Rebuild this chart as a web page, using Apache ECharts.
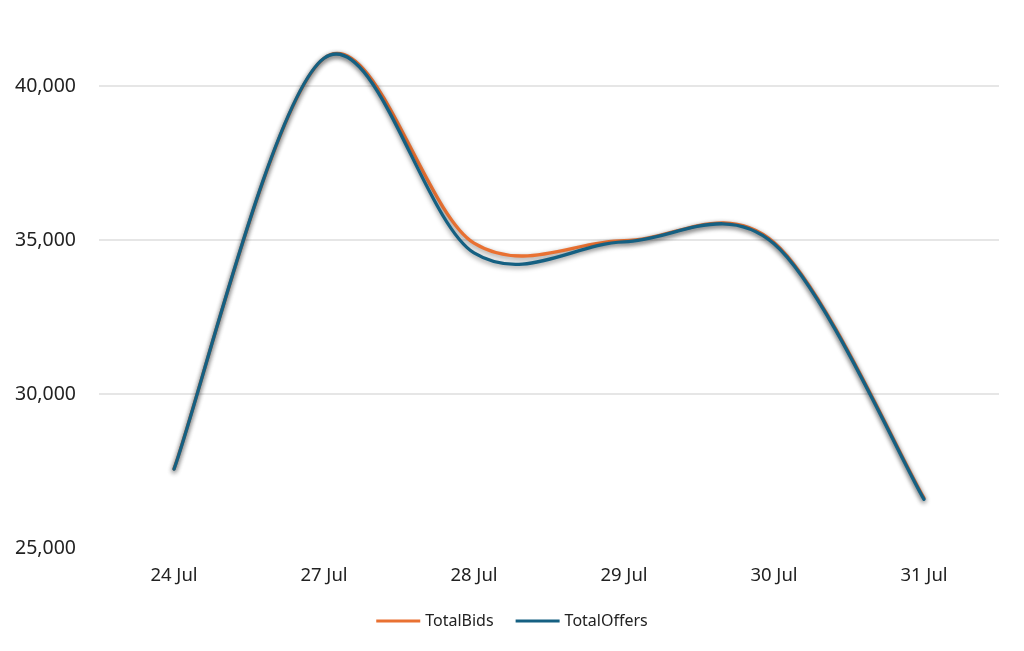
<!DOCTYPE html>
<html>
<head>
    <meta charset="UTF-8">
    <title>TotalBids / TotalOffers</title>
    <script src="https://cdn.jsdelivr.net/npm/echarts@6/dist/echarts.min.js"></script>
    <style>
        html, body { margin: 0; padding: 0; background: #fff; }
        #main { width: 1024px; height: 651px; }
    </style>
</head>
<body>
<div id="main"></div>
<script type="text/javascript">
    // data
    var days = ['24 Jul', '27 Jul', '28 Jul', '29 Jul', '30 Jul', '31 Jul'];
    var totalBids = [27570, 40900, 34900, 34980, 34920, 26620];
    var totalOffers = [27560, 40900, 34580, 34940, 34880, 26580];
    var yTicks = [25000, 30000, 35000, 40000];

    var myChart = echarts.init(document.getElementById('main'));
    var font = '"Noto Sans", sans-serif';

    // spreadsheet-style smoothed line (catmull-rom through the points)
    function smoothPath(values, api) {
        var pts = values.map(function (v, i) {
            return api.coord([i, v]);
        });
        var n = pts.length;
        var t = 1 / 6;
        var d = 'M' + pts[0][0] + ' ' + pts[0][1];
        for (var i = 0; i < n - 1; i++) {
            var p0 = pts[Math.max(i - 1, 0)];
            var p1 = pts[i];
            var p2 = pts[i + 1];
            var p3 = pts[Math.min(i + 2, n - 1)];
            var c1x = p1[0] + (p2[0] - p0[0]) * t;
            var c1y = p1[1] + (p2[1] - p0[1]) * t;
            var c2x = p2[0] - (p3[0] - p1[0]) * t;
            var c2y = p2[1] - (p3[1] - p1[1]) * t;
            d += ' C' + c1x + ' ' + c1y + ' ' + c2x + ' ' + c2y + ' ' + p2[0] + ' ' + p2[1];
        }
        return d;
    }

    function lineSeries(name, values, color) {
        return {
            name: name,
            type: 'custom',
            clip: false,
            itemStyle: {color: color},
            encode: {x: 0, y: 1},
            data: values.map(function (v, i) {
                return [i, v];
            }),
            renderItem: function (params, api) {
                if (params.dataIndex !== 0) {
                    return;
                }
                return {
                    type: 'path',
                    shape: {pathData: smoothPath(values, api)},
                    style: {
                        fill: 'none',
                        stroke: color,
                        lineWidth: 3.3,
                        lineCap: 'round',
                        shadowColor: 'rgba(0, 0, 0, 0.45)',
                        shadowBlur: 5,
                        shadowOffsetY: 2
                    }
                };
            }
        };
    }

    var option = {
        backgroundColor: '#fff',
        textStyle: {fontFamily: font},
        grid: {
            left: 99,
            right: 25,
            top: 86,
            bottom: 103
        },
        legend: {
            top: 608,
            left: 'center',
            itemWidth: 44,
            itemHeight: 3,
            itemGap: 22,
            textStyle: {fontSize: 16, color: '#222', fontFamily: font},
            data: [
                {name: 'TotalBids', icon: 'rect'},
                {name: 'TotalOffers', icon: 'rect'}
            ]
        },
        xAxis: {
            type: 'category',
            boundaryGap: true,
            data: days,
            axisLine: {show: false},
            axisTick: {show: false},
            axisLabel: {fontSize: 18.5, color: '#222', margin: 18}
        },
        yAxis: {
            type: 'value',
            min: yTicks[0],
            max: yTicks[yTicks.length - 1],
            interval: yTicks[1] - yTicks[0],
            axisLine: {show: false},
            axisTick: {show: false},
            axisLabel: {
                fontSize: 19.5,
                color: '#222',
                margin: 23,
                formatter: function (value) {
                    return value.toLocaleString('en-US');
                }
            },
            splitLine: {
                showMinLine: false,
                lineStyle: {color: '#e6e6e6', width: 2}
            }
        },
        series: [
            lineSeries('TotalBids', totalBids, '#E97132'),
            lineSeries('TotalOffers', totalOffers, '#156082')
        ]
    };
    myChart.setOption(option);
</script>
</body>
</html>
